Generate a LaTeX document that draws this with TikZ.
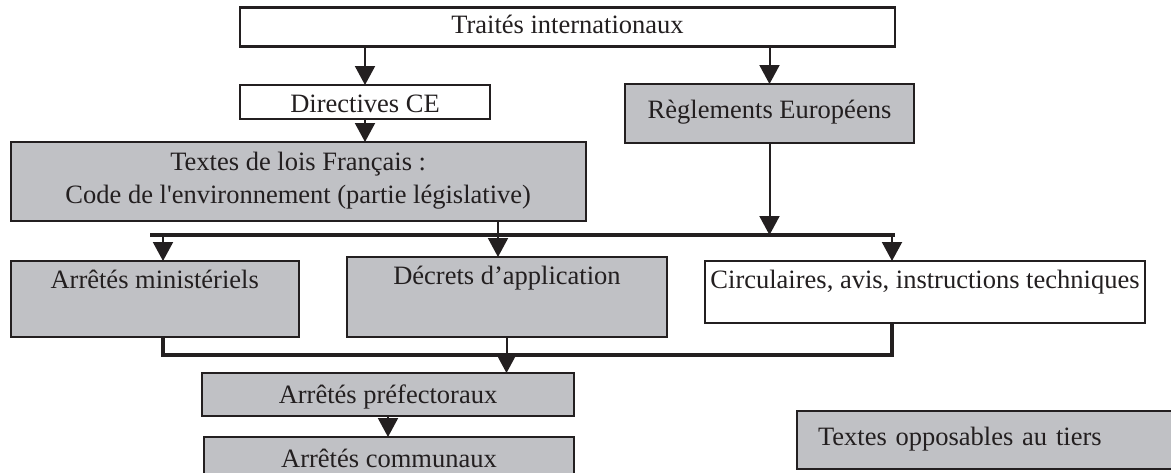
\documentclass[tikz,border=0pt]{standalone}
\usepackage{fontspec}
\setmainfont{Liberation Serif}
\usetikzlibrary{arrows.meta}
\definecolor{boxgray}{RGB}{192,193,197}
\definecolor{ink}{RGB}{35,31,32}
\begin{document}
\begin{tikzpicture}[x=1pt,y=-1pt,
  font=\fontsize{26.5}{33}\selectfont,
  box/.style={draw=ink, line width=2.2pt, anchor=north west, inner xsep=0pt, inner ysep=0pt, outer sep=0pt, text=ink},
  graybox/.style={box, fill=boxgray},
  whitebox/.style={box, fill=white},
  conn/.style={draw=ink, line width=2pt},
  bus/.style={draw=ink, line width=3.5pt},
  arr/.style={conn, -{Triangle[width=20pt,length=19pt]}}]
\useasboundingbox (0,0) rectangle (1171,472);

\node[whitebox, minimum width=655pt, text height=26pt, text depth=13pt] (trait) at (240,7.5) {Traités internationaux};
\node[whitebox, minimum width=250pt, text height=27.5pt, text depth=6.5pt] (dir) at (240,85) {Directives CE};
\node[graybox, minimum width=289pt, text height=34pt, text depth=25pt] (regl) at (625,84) {Règlements Européens};
\node[graybox, minimum width=575pt, text height=61pt, text depth=17.7pt, align=center] (textes) at (10.7,142) {Textes de lois Français :\\Code de l\textquotesingle environnement (partie législative)};
\node[graybox, minimum width=288pt, text height=27pt, text depth=49pt] (mini) at (10.7,261) {Arrêtés ministériels};
\node[graybox, minimum width=320pt, text height=27pt, text depth=53pt] (dec) at (347,257) {Décrets d’application};
\node[whitebox, minimum width=440pt, text height=27pt, text depth=35pt] (circ) at (705,261) {Circulaires, avis, instructions techniques};
\node[graybox, minimum width=372pt, text height=30pt, text depth=13pt] (pref) at (202,373) {Arrêtés préfectoraux};
\node[graybox, minimum width=370pt, text height=30pt, text depth=20pt] (comm) at (204,437) {Arrêtés communaux};
\node[graybox, inner xsep=21pt, text width=380pt, align=left, text height=34pt, text depth=24pt] (opp) at (797,411) {Textes opposables au tiers};

% upper connectors
\draw[arr] (dir.north |- trait.south) -- (dir.north);
\draw[arr] (regl.north |- trait.south) -- (regl.north);
\draw[arr] (dir.south) -- (dir.south |- textes.north);

% distribution bus
\coordinate (b1) at (150,235);
\coordinate (b2) at (895,235);
\coordinate (xm) at (163,0);
\coordinate (xt) at (498,0);
\coordinate (xc) at (892,0);
\coordinate (xd) at (506.5,0);
\draw[bus] (b1) -- (b2);
\draw[arr] (regl.south) -- (regl.south |- b1);
\draw[conn] (xt |- textes.south) -- (xt |- b1);
\draw[arr] (xt |- b1) -- (xt |- dec.north);
\draw[arr] (xm |- b1) -- (xm |- mini.north);
\draw[arr] (xc |- b1) -- (xc |- circ.north);

% collecting bus
\coordinate (c1) at (163,355);
\draw[bus] (xm |- mini.south) -- (c1) -- (c1 -| xc) -- (xc |- circ.south);
\draw[conn] (xd |- dec.south) -- (xd |- c1);
\draw[arr] (xd |- c1) -- (xd |- pref.north);
\draw[arr] (pref.south) -- (pref.south |- comm.north);
\end{tikzpicture}
\end{document}
